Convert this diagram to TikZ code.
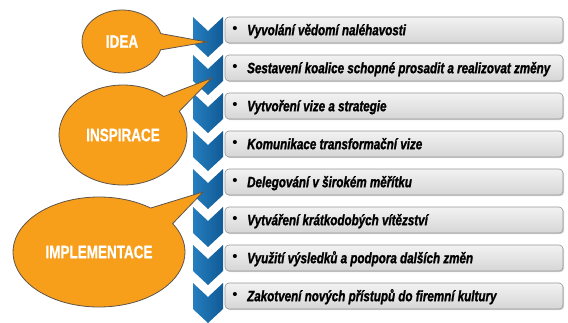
\documentclass[tikz,border=0pt]{standalone}
\usepackage{fontspec}
\setmainfont{Liberation Sans}
\newfontface\rowfont[FakeStretch=0.775,FakeBold=1.3]{Liberation Sans Bold Italic}
\newfontface\calfont[FakeStretch=0.75,FakeBold=0.8]{Liberation Sans Bold}
\usetikzlibrary{shapes.callouts,shadows}
\definecolor{orng}{RGB}{247,158,27}
\definecolor{orngline}{RGB}{95,85,75}
\definecolor{bluL}{RGB}{38,126,190}
\definecolor{bluD}{RGB}{16,90,150}
\definecolor{boxT}{RGB}{242,242,242}
\definecolor{boxB}{RGB}{214,214,214}
\definecolor{boxLine}{RGB}{150,150,150}
\tikzset{
  rowbox/.style={rectangle, rounded corners=4pt, minimum width=338pt, minimum height=26pt,
    draw=boxLine, line width=0.6pt, top color=boxT, bottom color=boxB,
    drop shadow={shadow xshift=1.2pt, shadow yshift=-1.2pt, opacity=0.35}},
  rowtext/.style={anchor=base west, inner sep=0pt, text=black,
    font=\rowfont\fontsize{15}{17}\selectfont},
  bul/.style={inner sep=0pt, text=black, font=\fontsize{15}{15}\selectfont},
  chev/.style={left color=bluL, right color=bluD},
  callbub/.style={ellipse callout, draw=orngline, line width=0.8pt, fill=orng, text=white,
    inner sep=0pt, font=\calfont\fontsize{18}{20}\selectfont}
}
\begin{document}
\begin{tikzpicture}[x=1pt,y=-1pt]
\useasboundingbox (0,0) rectangle (568,322);
% rows
\foreach \i/\t in {1/{Vyvolání vědomí naléhavosti},
                   2/{Sestavení koalice schopné prosadit a realizovat změny},
                   3/{Vytvoření vize a strategie},
                   4/{Komunikace transformační vize},
                   5/{Delegování v širokém měřítku},
                   6/{Vytváření krátkodobých vítězství},
                   7/{Využití výsledků a podpora dalších změn},
                   8/{Zakotvení nových přístupů do firemní kultury}}{
  \pgfmathsetmacro{\c}{30+38*(\i-1)}
  \node[rowbox] (b\i) at (394,\c) {};
  \node[bul] (d\i) at (235,\c) {•};
  \node[rowtext] (t\i) at (247,\c+5.2) {\t};
  \shade[chev] (193,\c-13) -- (208,\c+1) -- (223,\c-13) -- (223,\c+13)
     -- (208,\c+27) -- (193,\c+13) -- cycle;
}
% callouts
\coordinate (tipA) at (207,42);
\coordinate (tipB) at (212,78);
\coordinate (tipC) at (203,192);
\node[callbub, minimum width=80pt, minimum height=63pt,
  callout absolute pointer={(tipA)}, callout pointer arc=30] (idea) at (122,41.5) {IDEA};
\node[callbub, minimum width=128pt, minimum height=100pt,
  callout absolute pointer={(tipB)}, callout pointer arc=22] (insp) at (123,135) {INSPIRACE};
\node[callbub, minimum width=172pt, minimum height=110pt,
  callout absolute pointer={(tipC)}, callout pointer arc=22] (impl) at (99,252) {IMPLEMENTACE};
\end{tikzpicture}
\end{document}
